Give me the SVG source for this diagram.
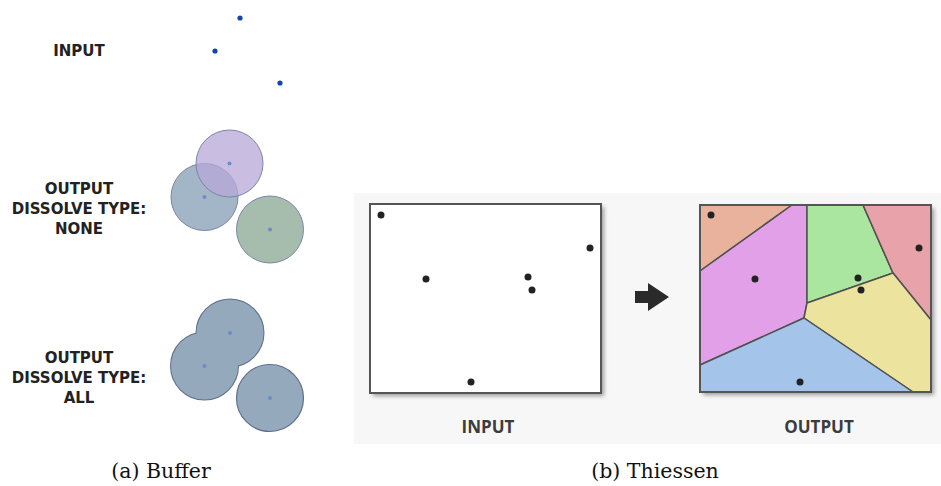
<svg xmlns="http://www.w3.org/2000/svg" width="941" height="486" viewBox="0 0 941 486">
<style>
.lbl{font-family:"DejaVu Sans",Verdana,sans-serif;font-weight:bold;font-size:15px;fill:#222;text-anchor:middle}
.tl{font-family:"Open Sans","DejaVu Sans",sans-serif;font-weight:bold;font-size:17px;fill:#3c3c3c;text-anchor:middle}
.cap{font-family:"DejaVu Serif","Liberation Serif",serif;font-size:20.5px;fill:#111;text-anchor:middle}
.pt{fill:#1246a8}
.cpt{fill:#6b8cc6}
.buf{stroke:#7a86a6;stroke-width:1}
.dot{fill:#222}
.cell{stroke:#505050;stroke-width:1.5;stroke-linejoin:round}
.box{fill:#fff;stroke:#555;stroke-width:2}
</style>
<defs>
<filter id="sh" x="-10%" y="-10%" width="130%" height="130%">
<feGaussianBlur stdDeviation="2"/>
</filter>
</defs>
<rect width="941" height="486" fill="#fff"/>

<!-- Buffer (a) -->
<g id="buffer-input">
<text class="lbl" x="79" y="56">INPUT</text>
<circle class="pt" cx="240" cy="18" r="2.6"/>
<circle class="pt" cx="215" cy="51" r="2.6"/>
<circle class="pt" cx="280" cy="83" r="2.6"/>
</g>

<g id="buffer-none">
<text class="lbl" x="79" y="194">OUTPUT</text>
<text class="lbl" x="79" y="214">DISSOLVE TYPE:</text>
<text class="lbl" x="79" y="234">NONE</text>
<circle class="buf" cx="204.5" cy="197" r="33.5" fill="#a3b6c7"/>
<circle class="buf" cx="229.5" cy="163.5" r="33.5" fill="#b7a8d8" fill-opacity="0.75"/>
<circle class="buf" cx="270" cy="229.5" r="33.5" fill="#a6bdae"/>
<circle class="cpt" cx="204.5" cy="197" r="2"/>
<circle class="cpt" cx="229.5" cy="163.5" r="2"/>
<circle class="cpt" cx="270" cy="229.5" r="2"/>
</g>

<g id="buffer-all">
<text class="lbl" x="79" y="363">OUTPUT</text>
<text class="lbl" x="79" y="383">DISSOLVE TYPE:</text>
<text class="lbl" x="79" y="403">ALL</text>
<circle cx="204.5" cy="366" r="33.5" fill="none" stroke="#5f6f8f" stroke-width="2"/>
<circle cx="230" cy="333" r="33.5" fill="none" stroke="#5f6f8f" stroke-width="2"/>
<circle cx="204.5" cy="366" r="33.5" fill="#94a9bb"/>
<circle cx="230" cy="333" r="33.5" fill="#94a9bb"/>
<circle cx="270" cy="398" r="33.5" fill="#94a9bb" stroke="#5f6f8f" stroke-width="1.2"/>
<circle class="cpt" cx="204.5" cy="366" r="2"/>
<circle class="cpt" cx="230" cy="333" r="2"/>
<circle class="cpt" cx="270" cy="398" r="2"/>
</g>

<text class="cap" x="161" y="478">(a) Buffer</text>

<!-- Thiessen (b) -->
<rect x="354" y="193" width="587" height="251" fill="#f7f7f7"/>

<g id="thiessen-input">
<rect x="373" y="207" width="231" height="189" fill="#999" filter="url(#sh)"/>
<rect class="box" x="370" y="204" width="231" height="189"/>
<circle class="dot" cx="381" cy="215" r="3.5"/>
<circle class="dot" cx="426" cy="279" r="3.5"/>
<circle class="dot" cx="528" cy="277" r="3.5"/>
<circle class="dot" cx="532" cy="290" r="3.5"/>
<circle class="dot" cx="590" cy="248" r="3.5"/>
<circle class="dot" cx="471" cy="382" r="3.5"/>
<text class="tl" x="488" y="433">INPUT</text>
</g>

<g id="connectors">
<polygon points="635,291 648,291 648,283 669,297 648,311 648,303 635,303" fill="#2a2a2a"/>
</g>

<g id="thiessen-output">
<rect x="703" y="208" width="231" height="187" fill="#999" filter="url(#sh)"/>
<polygon class="cell" points="700,205 792,205 700,271" fill="#e8b29c"/>
<polygon class="cell" points="792,205 807,205 807,303 804,318 700,365 700,271" fill="#e2a0e8"/>
<polygon class="cell" points="807,205 863,205 893,273 807,303" fill="#aae6a0"/>
<polygon class="cell" points="863,205 931,205 931,320 893,273" fill="#e8a2aa"/>
<polygon class="cell" points="807,303 893,273 931,320 931,392 913,392 804,318" fill="#ece49e"/>
<polygon class="cell" points="700,365 804,318 913,392 700,392" fill="#a4c4ea"/>
<rect x="700" y="205" width="231" height="187" fill="none" stroke="#555" stroke-width="2"/>
<circle class="dot" cx="711" cy="215" r="3.5"/>
<circle class="dot" cx="755" cy="279" r="3.5"/>
<circle class="dot" cx="858" cy="278" r="3.5"/>
<circle class="dot" cx="861" cy="290" r="3.5"/>
<circle class="dot" cx="919" cy="248" r="3.5"/>
<circle class="dot" cx="800" cy="382" r="3.5"/>
<text class="tl" x="819" y="433">OUTPUT</text>
</g>

<text class="cap" x="655" y="478">(b) Thiessen</text>
</svg>
